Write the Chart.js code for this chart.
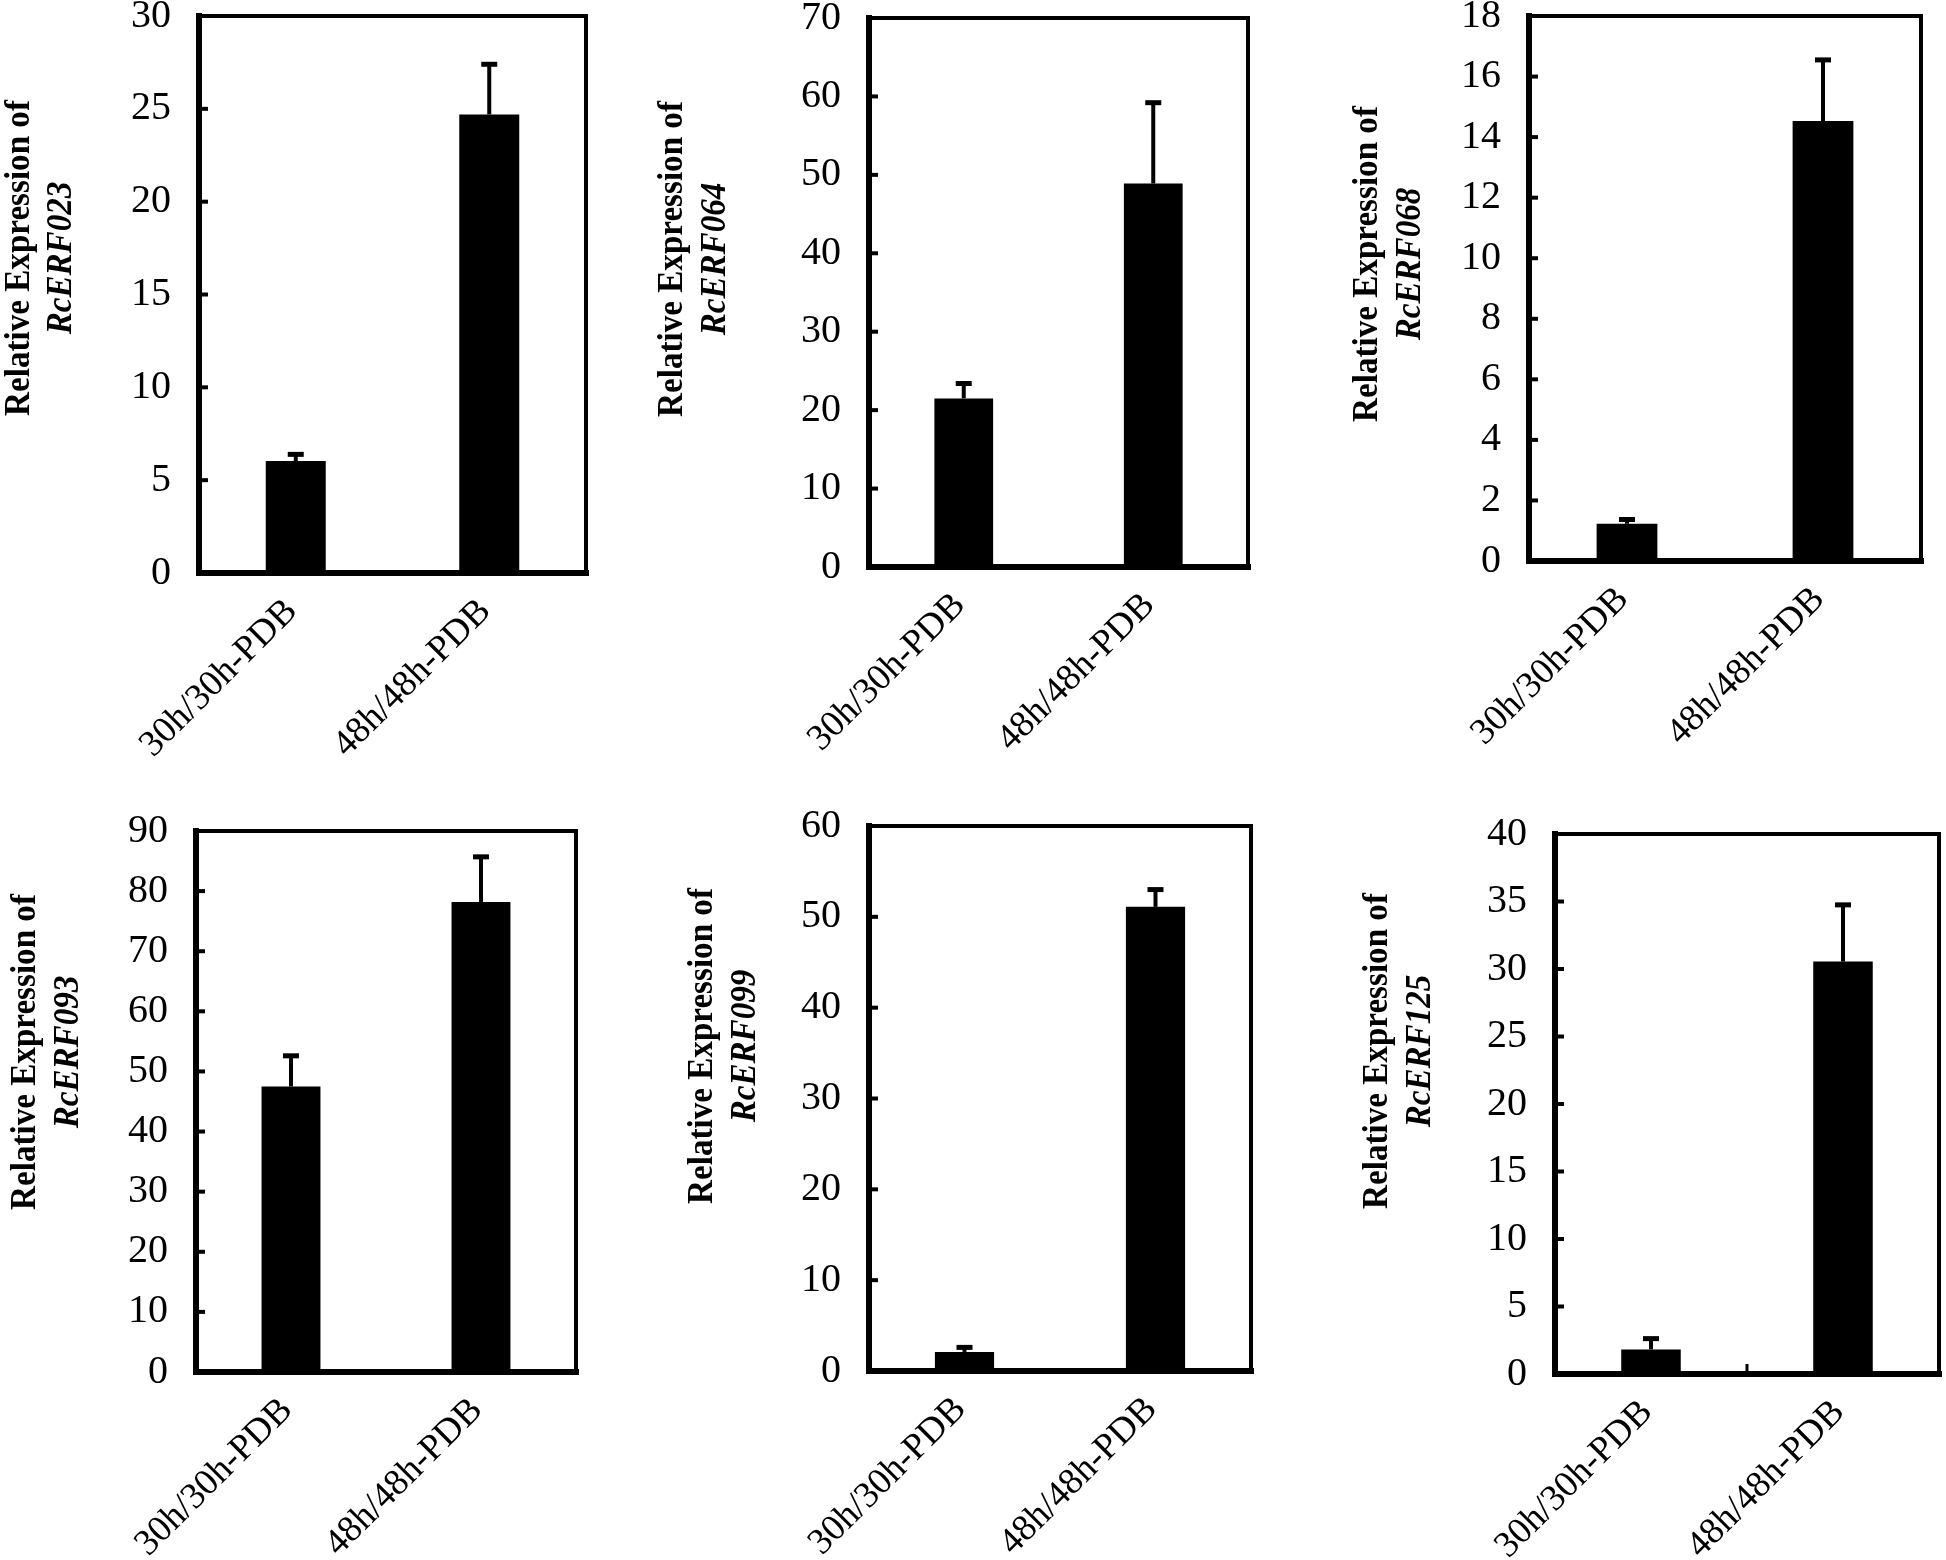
<!DOCTYPE html>
<html>
<head>
<meta charset="utf-8">
<title>Relative expression of RcERF genes</title>
<script src="https://cdn.jsdelivr.net/npm/chart.js@4.4.1/dist/chart.umd.min.js"></script>
<style>
    html, body { margin: 0; padding: 0; background: #fff; }
    #page { position: relative; width: 1946px; height: 1560px; overflow: hidden; background: #fff; }
    #page canvas { position: absolute; }
</style>
</head>
<body>
<div id="page"></div>
<script>
// Datos
const categories = ['30h/30h-PDB', '48h/48h-PDB'];
const genes = ['RcERF023', 'RcERF064', 'RcERF068', 'RcERF093', 'RcERF099', 'RcERF125'];
const meanValues = [
    [6.03, 24.7],
    [21.5, 48.9],
    [1.23, 14.53],
    [47.5, 78.2],
    [2.1, 51.1],
    [1.82, 30.55]
];
const errorValues = [
    [0.36, 2.7],
    [1.9, 10.3],
    [0.14, 2.02],
    [5.1, 7.5],
    [0.5, 1.9],
    [0.8, 4.2]
];
const yMaxValues = [30, 70, 18, 90, 60, 40];
const yStepValues = [5, 10, 2, 10, 10, 5];

// Posiciones en la página (px)
const canvasRects = [
    [0, 0, 640, 790], [640, 0, 660, 790], [1300, 0, 646, 790],
    [0, 790, 640, 770], [640, 790, 660, 770], [1300, 790, 646, 770]
];
const plotBoxes = [
    [199, 16, 586, 573], [869, 18, 1248, 567], [1529, 16, 1921, 561],
    [196, 831, 576, 1372], [869, 826, 1251, 1371], [1555, 834, 1939, 1374]
];
// x línea 1, x línea 2, y centro
const titlePos = [
    [20, 62, 258], [673, 716, 259], [1368, 1411, 264],
    [26, 69, 1052], [703, 746, 1046], [1378, 1421, 1051]
];

const SERIF = "'Liberation Serif', 'Times New Roman', Times, serif";
const Y_AXIS_WIDTH = 120;

Chart.defaults.font.family = SERIF;
Chart.defaults.color = '#000';

document.addEventListener('DOMContentLoaded', function() {
    for (let i = 0; i < genes.length; i++) {
        buildPanel(i);
    }
});

function buildPanel(i) {
    const rect = canvasRects[i];
    const box = plotBoxes[i];
    const page = document.getElementById('page');
    const canvas = document.createElement('canvas');
    canvas.width = rect[2];
    canvas.height = rect[3];
    canvas.style.left = rect[0] + 'px';
    canvas.style.top = rect[1] + 'px';
    canvas.style.width = rect[2] + 'px';
    canvas.style.height = rect[3] + 'px';
    page.appendChild(canvas);

    const padLeft = box[0] - rect[0] - Y_AXIS_WIDTH;
    const padTop = box[1] - rect[1];
    const padRight = rect[0] + rect[2] - box[2];
    const xAxisHeight = rect[1] + rect[3] - box[3];

    new Chart(canvas.getContext('2d'), {
        type: 'bar',
        data: {
            labels: categories,
            datasets: [{
                data: meanValues[i],
                backgroundColor: '#000',
                borderWidth: 0,
                barPercentage: 0.31,
                categoryPercentage: 1.0
            }]
        },
        options: {
            responsive: false,
            animation: false,
            devicePixelRatio: 1,
            layout: {
                padding: { left: padLeft, top: padTop, right: padRight, bottom: 0 }
            },
            plugins: {
                legend: { display: false },
                tooltip: { enabled: false },
                panelDecor: {
                    index: i
                }
            },
            scales: {
                x: {
                    grid: { display: false, drawTicks: false },
                    border: { display: false },
                    ticks: {
                        autoSkip: false,
                        minRotation: 45,
                        maxRotation: 45,
                        padding: 17,
                        labelOffset: -4,
                        font: { size: 37 },
                        color: '#000'
                    },
                    afterFit: function(scale) {
                        scale.height = xAxisHeight;
                        scale.paddingLeft = 0;
                        scale.paddingRight = 0;
                    }
                },
                y: {
                    min: 0,
                    max: yMaxValues[i],
                    grid: { display: false, drawTicks: false },
                    border: { display: false },
                    ticks: {
                        stepSize: yStepValues[i],
                        padding: 28,
                        font: { size: 40 },
                        color: '#000'
                    },
                    afterFit: function(scale) {
                        scale.width = Y_AXIS_WIDTH;
                        scale.paddingTop = 0;
                        scale.paddingBottom = 0;
                    }
                }
            }
        },
        plugins: [panelDecor]
    });
}

// Marco, marcas internas, barras de error y título del eje Y
const panelDecor = {
    id: 'panelDecor',
    afterDatasetsDraw(chart, args, opts) {
        const i = opts.index;
        const ctx = chart.ctx;
        const area = chart.chartArea;
        const xScale = chart.scales.x;
        const yScale = chart.scales.y;
        const rect = canvasRects[i];

        ctx.save();
        ctx.strokeStyle = '#000';
        ctx.fillStyle = '#000';

        // barras de error (solo hacia arriba)
        const meta = chart.getDatasetMeta(0);
        meta.data.forEach(function(bar, k) {
            const top = yScale.getPixelForValue(meanValues[i][k] + errorValues[i][k]);
            ctx.lineWidth = 4;
            ctx.beginPath();
            ctx.moveTo(bar.x, bar.y);
            ctx.lineTo(bar.x, top);
            ctx.stroke();
            ctx.lineWidth = 5;
            ctx.beginPath();
            ctx.moveTo(bar.x - 8, top);
            ctx.lineTo(bar.x + 8, top);
            ctx.stroke();
        });

        // marcas del eje Y hacia dentro
        ctx.lineWidth = 4;
        yScale.ticks.forEach(function(t, k) {
            const y = yScale.getPixelForTick(k);
            ctx.beginPath();
            ctx.moveTo(area.left, y);
            ctx.lineTo(area.left + 9, y);
            ctx.stroke();
        });

        // marca entre categorías (solo en el último panel)
        if (i === 5) {
            const mid = (xScale.getPixelForValue(0) + xScale.getPixelForValue(1)) / 2;
            ctx.lineWidth = 3;
            ctx.beginPath();
            ctx.moveTo(mid, area.bottom);
            ctx.lineTo(mid, area.bottom - 10);
            ctx.stroke();
        }

        // marco
        ctx.lineCap = 'square';
        ctx.lineWidth = 4;
        ctx.beginPath();
        ctx.moveTo(area.left, area.top);
        ctx.lineTo(area.right, area.top);
        ctx.lineTo(area.right, area.bottom);
        ctx.stroke();
        ctx.lineWidth = 6;
        ctx.beginPath();
        ctx.moveTo(area.left, area.top);
        ctx.lineTo(area.left, area.bottom);
        ctx.lineTo(area.right, area.bottom);
        ctx.stroke();

        // título del eje Y en dos líneas (letra algo estrecha, como en la figura)
        const tp = titlePos[i];
        const cy = tp[2] - rect[1];
        ctx.textAlign = 'center';
        ctx.textBaseline = 'middle';

        ctx.save();
        ctx.translate(tp[0] - rect[0], cy);
        ctx.rotate(-Math.PI / 2);
        ctx.scale(0.92, 1);
        ctx.font = 'bold 36px ' + SERIF;
        ctx.fillText('Relative Expression of', 0, 0);
        ctx.restore();

        ctx.save();
        ctx.translate(tp[1] - rect[0], cy);
        ctx.rotate(-Math.PI / 2);
        ctx.scale(0.92, 1);
        ctx.font = 'italic bold 36px ' + SERIF;
        ctx.fillText(genes[i], 0, 0);
        ctx.restore();

        ctx.restore();
    }
};
</script>
</body>
</html>
